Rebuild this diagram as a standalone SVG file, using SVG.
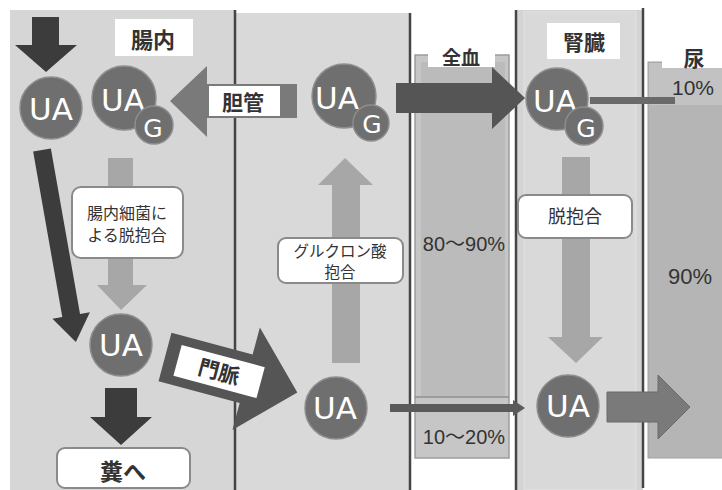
<svg xmlns="http://www.w3.org/2000/svg" width="722" height="490" viewBox="0 0 722 490">
<style>
.panel{fill:#d6d6d6}
.divider{stroke:#454545;stroke-width:2.5}
.mol{fill:#6f6f6f;stroke:#8e8e8e;stroke-width:1.5}
.ua{font-family:"DejaVu Sans",sans-serif;font-size:31px;fill:#ffffff;text-anchor:middle}
.g{font-family:"DejaVu Sans",sans-serif;font-size:25px;fill:#ffffff;text-anchor:middle}
.jp{font-family:"Noto Sans CJK JP",sans-serif;fill:#333333;text-anchor:middle}
.lbl{fill:#ffffff}
.rbox{fill:#ffffff;stroke:#8a8a8a;stroke-width:2}
.dark{fill:#3c3c3c}
.mid{fill:#7a7a7a}
.light{fill:#a7a7a7}
.pct{font-family:"Liberation Sans",Arial,"Noto Sans CJK JP",sans-serif;fill:#333333;text-anchor:middle}
</style>

<g id="backgrounds">
  <rect class="panel" x="10" y="10" width="225" height="480"/>
  <rect x="235" y="13" width="175" height="477" fill="#d9d9d9"/>
  <rect x="516" y="10" width="127" height="480" fill="#d4d4d4"/>
  <rect x="524" y="12" width="112" height="478" fill="#d9d9d9" stroke="#e2e2e2" stroke-width="1"/>
  <line class="divider" x1="235" y1="10" x2="235" y2="490"/>
  <line class="divider" x1="410" y1="13" x2="410" y2="490"/>
  <line class="divider" x1="516" y1="10" x2="516" y2="490"/>
  <line class="divider" x1="643" y1="8" x2="643" y2="488"/>
</g>

<g id="blood-column">
  <rect x="415" y="55" width="94" height="403" fill="#c6c6c6" stroke="#9c9c9c" stroke-width="1.5"/>
  <rect x="421" y="62" width="84" height="334" fill="#bbbbbb"/>
  <line x1="415" y1="397" x2="509" y2="397" stroke="#8f8f8f" stroke-width="1.5"/>
  <rect class="lbl" x="428" y="45" width="67" height="22"/>
  <text class="jp" x="461" y="65" font-size="19" font-weight="bold">全血</text>
  <text class="pct" x="464" y="251" font-size="20">80〜90%</text>
  <text class="pct" x="464" y="444" font-size="20">10〜20%</text>
</g>

<g id="urine-column">
  <rect x="648" y="62" width="76" height="396" fill="#b5b5b5" stroke="#a0a0a0" stroke-width="1"/>
  <rect x="649" y="63" width="74" height="42" fill="#c2c2c2"/>
  <rect class="lbl" x="662" y="47" width="62" height="21"/>
  <text class="jp" x="694" y="66" font-size="21" font-weight="bold">尿</text>
  <text class="pct" x="693" y="95" font-size="21">10%</text>
  <text class="pct" x="690" y="284" font-size="22">90%</text>
</g>

<g id="connectors">
  <polygon class="dark" points="32,17 59,17 59,45 77,45 46,72 15,45 32,45"/>
  <polygon class="dark" transform="translate(42,150) rotate(-10)" points="-9,0 9,0 9,168 19,168 0,195 -19,168 -9,168"/>
  <polygon class="dark" points="105,388 137,388 137,417 152,417 121,445 90,417 105,417"/>
  <polygon class="light" points="108,158 133,158 133,285 147,285 121,310 97,285 108,285"/>
  <polygon class="light" points="345,158 373,185 360,185 360,363 332,363 332,185 318,185"/>
  <polygon class="light" points="562,157 590,157 590,337 603,337 576,363 548,337 562,337"/>
  <polygon class="mid" points="170,101 207,66 207,84 297,84 297,118 207,118 207,137"/>
  <polygon fill="#555555" points="396,83 492,83 492,67 525,98 492,129 492,113 396,113"/>
  <rect x="590" y="97" width="85" height="7" fill="#6a6a6a"/>
  <polygon fill="#5a5a5a" points="390,404 513,404 513,400 525,408 513,416 513,412 390,412"/>
  <polygon class="mid" stroke="#6a6a6a" stroke-width="1" points="607,392 658,392 658,375 690,407 658,439 658,422 607,422"/>
  <g transform="translate(165,357) rotate(15)">
    <polygon fill="#555555" points="0,-25 84,-25 84,-53 137,0 84,53 84,25 0,25"/>
    <rect class="lbl" x="13" y="-16" width="86" height="32"/>
    <text class="jp" x="56" y="8" font-size="21" font-weight="bold">門脈</text>
  </g>
</g>

<g id="label-intestine">
  <rect class="lbl" x="115" y="19" width="78" height="37"/>
  <text class="jp" x="153" y="48" font-size="22" font-weight="bold">腸内</text>
</g>
<g id="label-bile">
  <rect class="lbl" x="209" y="86" width="71" height="30"/>
  <text class="jp" x="243" y="110" font-size="21" font-weight="bold">胆管</text>
</g>
<g id="label-kidney">
  <rect class="lbl" x="547" y="23" width="73" height="36"/>
  <text class="jp" x="584" y="50" font-size="21" font-weight="bold">腎臓</text>
</g>

<g id="ua-intestine-top">
  <circle class="mol" cx="51" cy="108" r="31"/>
  <text class="ua" x="51" y="120">UA</text>
</g>
<g id="uag-intestine">
  <circle class="mol" cx="124" cy="98" r="32"/>
  <text class="ua" x="123" y="111">UA</text>
  <circle class="mol" cx="154" cy="125" r="19"/>
  <text class="g" x="153" y="137">G</text>
</g>
<g id="uag-liver">
  <circle class="mol" cx="344" cy="96" r="32"/>
  <text class="ua" x="337" y="109">UA</text>
  <circle class="mol" cx="371" cy="123" r="18"/>
  <text class="g" x="372" y="133">G</text>
</g>
<g id="uag-kidney">
  <circle class="mol" cx="557" cy="99" r="31"/>
  <text class="ua" x="555" y="112">UA</text>
  <circle class="mol" cx="584" cy="126" r="19"/>
  <text class="g" x="586" y="137">G</text>
</g>
<g id="ua-intestine-bottom">
  <circle class="mol" cx="121" cy="345" r="31"/>
  <text class="ua" x="121" y="356">UA</text>
</g>
<g id="ua-portal">
  <circle class="mol" cx="336" cy="408" r="31"/>
  <text class="ua" x="335" y="419">UA</text>
</g>
<g id="ua-kidney">
  <circle class="mol" cx="568" cy="406" r="31"/>
  <text class="ua" x="568" y="417">UA</text>
</g>

<g id="label-bacteria">
  <rect class="rbox" x="72" y="187" width="111" height="71" rx="9"/>
  <text class="jp" x="127" y="219" font-size="16">腸内細菌に</text>
  <text class="jp" x="127" y="241" font-size="16">よる脱抱合</text>
</g>
<g id="label-glucuronide">
  <rect class="rbox" x="278" y="238" width="125" height="45" rx="8"/>
  <text class="jp" x="340" y="257" font-size="15.5">グルクロン酸</text>
  <text class="jp" x="340" y="278" font-size="15.5">抱合</text>
</g>
<g id="label-deconj">
  <rect class="rbox" x="518" y="195" width="114" height="43" rx="8"/>
  <text class="jp" x="575" y="223" font-size="18">脱抱合</text>
</g>
<g id="label-feces">
  <rect class="rbox" x="57" y="448" width="133" height="40" rx="8"/>
  <text class="jp" x="123" y="480" font-size="23" font-weight="bold">糞へ</text>
</g>
</svg>
